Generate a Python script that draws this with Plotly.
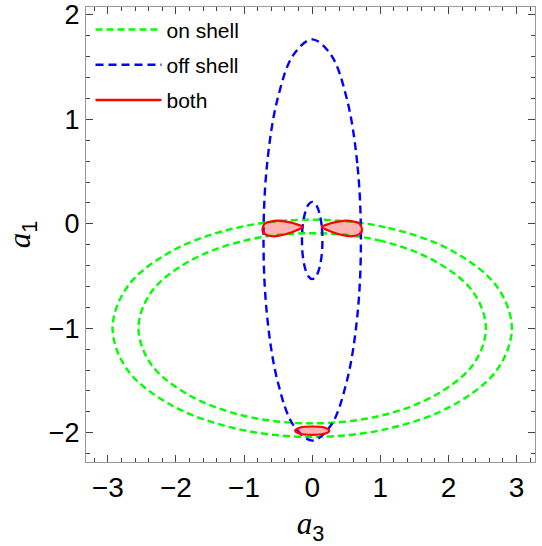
import plotly.graph_objects as go

# ---- data (a3, a1) ----
on_outer_x = [0, 1.12, 2.07, 2.71, 2.93, 2.71, 2.07, 1.12, 0, -1.12, -2.07, -2.71, -2.93, -2.71, -2.07, -1.12, 0]
on_outer_y = [0.04, -0.04, -0.265, -0.60, -1.0, -1.40, -1.735, -1.96, -2.04, -1.96, -1.735, -1.40, -1.0, -0.60, -0.265, -0.04, 0.04]
on_inner_x = [0, 0.98, 1.80, 2.36, 2.55, 2.36, 1.80, 0.98, 0, -0.98, -1.80, -2.36, -2.55, -2.36, -1.80, -0.98, 0]
on_inner_y = [-0.09, -0.159, -0.357, -0.651, -1.0, -1.349, -1.643, -1.841, -1.91, -1.841, -1.643, -1.349, -1.0, -0.651, -0.357, -0.159, -0.09]

off_big_x = [0.715, 0.661, 0.506, 0.274, 0, -0.274, -0.506, -0.661, -0.715, -0.661, -0.506, -0.274, 0, 0.274, 0.506, 0.661, 0.715]
off_big_y = [-0.155, 0.58, 1.202, 1.619, 1.765, 1.619, 1.202, 0.58, -0.155, -0.89, -1.512, -1.929, -2.075, -1.929, -1.512, -0.89, -0.155]
off_small_x = [0.15, 0.139, 0.106, 0.057, 0, -0.057, -0.106, -0.139, -0.15, -0.139, -0.106, -0.057, 0, 0.057, 0.106, 0.139, 0.15]
off_small_y = [-0.16, -0.018, 0.102, 0.182, 0.21, 0.182, 0.102, -0.018, -0.16, -0.302, -0.422, -0.502, -0.53, -0.502, -0.422, -0.302, -0.16]

both_left_x = [-0.73, -0.70, -0.62, -0.50, -0.38, -0.25, -0.14, -0.22, -0.32, -0.45, -0.56, -0.66, -0.72, -0.73]
both_left_y = [-0.05, 0.00, 0.02, 0.03, 0.02, 0.00, -0.03, -0.06, -0.085, -0.11, -0.12, -0.11, -0.085, -0.05]
both_right_x = [0.73, 0.70, 0.62, 0.50, 0.38, 0.25, 0.14, 0.22, 0.32, 0.45, 0.56, 0.66, 0.72, 0.73]
both_right_y = [-0.05, 0.00, 0.02, 0.03, 0.02, 0.00, -0.03, -0.06, -0.085, -0.11, -0.12, -0.11, -0.085, -0.05]
both_bottom_x = [0, 0.177, 0.25, 0.177, 0, -0.177, -0.25, -0.177, 0]
both_bottom_y = [-1.94, -1.95, -1.98, -2.01, -2.02, -2.01, -1.98, -1.95, -1.94]

x_ticks = [-3, -2, -1, 0, 1, 2, 3]
y_ticks = [-2, -1, 0, 1, 2]

GREEN = "#00ff00"
BLUE = "#0000ff"
RED = "#ff0000"
FILL = "rgba(255,0,0,0.3)"
FONT = "Liberation Sans, Arial, sans-serif"

fig = go.Figure()

def curve(x, y, color, dash, name, group, show):
    fig.add_trace(go.Scatter(
        x=x, y=y, mode="lines", name=name, legendgroup=group, showlegend=show,
        line=dict(color=color, width=2.4, dash=dash, shape="spline", smoothing=1.0),
        hoverinfo="skip"))

curve(on_outer_x, on_outer_y, GREEN, "7px,4px", "on shell", "g1", True)
curve(on_inner_x, on_inner_y, GREEN, "7px,4px", "on shell", "g1", False)
curve(off_big_x, off_big_y, BLUE, "8px,5px", "off shell", "g2", True)
curve(off_small_x, off_small_y, BLUE, "8px,5px", "off shell", "g2", False)

for bx, by in [(both_left_x, both_left_y), (both_right_x, both_right_y), (both_bottom_x, both_bottom_y)]:
    fig.add_trace(go.Scatter(
        x=bx, y=by, mode="lines", fill="toself", fillcolor=FILL,
        name="both", legendgroup="g3", showlegend=False,
        line=dict(color=RED, width=2.2, shape="spline", smoothing=1.0),
        hoverinfo="skip"))
# legend entry for "both" (solid red line, as in the reference legend)
fig.add_trace(go.Scatter(x=[None], y=[None], mode="lines", name="both", legendgroup="g3",
                         showlegend=True, line=dict(color=RED, width=2.4)))

axis_common = dict(
    showgrid=False, zeroline=False, showline=True, linecolor="#999999", linewidth=1,
    mirror="allticks", ticks="inside", ticklen=7, tickwidth=1, tickcolor="#444444",
    minor=dict(ticks="inside", ticklen=4, tickwidth=1, tickcolor="#444444", dtick=0.2),
    automargin=False,
)

fig.update_xaxes(range=[-3.32, 3.27], tickvals=x_ticks, **axis_common,
                 tickfont=dict(family=FONT, size=28, color="black"),
                 title=dict(text='<span style="font-family:Liberation Serif"><i>a</i></span><sub>3</sub>',
                            font=dict(family=FONT, size=31, color="black"),
                            standoff=25))
fig.update_yaxes(range=[-2.28, 2.075], tickvals=y_ticks, **axis_common,
                 tickfont=dict(family=FONT, size=27, color="black"),
                 title=dict(text='<span style="font-family:Liberation Serif"><i>a</i></span><sub>1</sub>',
                            font=dict(family=FONT, size=31, color="black"),
                            standoff=8))

fig.update_layout(
    width=542, height=546,
    margin=dict(l=86, r=7, t=7, b=84),
    paper_bgcolor="white", plot_bgcolor="white",
    showlegend=True,
    legend=dict(x=0.01, y=0.995, xanchor="left", yanchor="top",
                bgcolor="rgba(0,0,0,0)", traceorder="grouped", tracegroupgap=5,
                itemwidth=66,
                font=dict(family=FONT, size=21, color="black")),
)

fig.write_html("out.html")
